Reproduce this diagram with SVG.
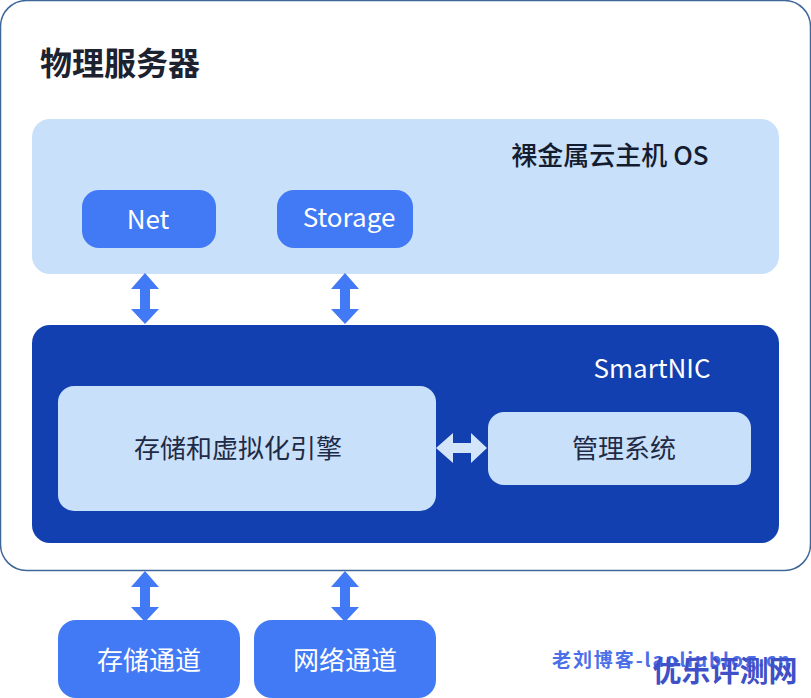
<svg xmlns="http://www.w3.org/2000/svg" width="811" height="698" viewBox="0 0 811 698">
<style>
text{font-family:"Noto Sans CJK SC","Noto Sans",sans-serif}
.w{fill:#fff;font-size:26px;text-anchor:middle}
.d{fill:#1f2a44;font-size:26px;text-anchor:middle}
.b{fill:#4279f4}
.l{fill:#c9e0fb}
.a{fill:#4279f4}
</style>
<rect width="811" height="698" fill="#fff"/>
<g id="server"><rect x="0.5" y="0.5" width="810" height="570" rx="26" fill="#fff" stroke="#3f6798" stroke-width="1.5"/>
<text x="120" y="75" font-size="32" font-weight="700" fill="#1c2230" text-anchor="middle">物理服务器</text></g>
<g id="os"><rect class="l" x="32" y="119" width="747" height="155" rx="18"/>
<text x="610" y="165" font-size="26" font-weight="500" fill="#141c30" text-anchor="middle">裸金属云主机 OS</text></g>
<g id="net"><rect class="b" x="82" y="190" width="134" height="58" rx="17"/><text class="w" x="148" y="229">Net</text></g>
<g id="storage"><rect class="b" x="277" y="190" width="136" height="58" rx="17"/><text class="w" x="349" y="227">Storage</text></g>
<g id="smartnic"><rect x="32" y="325" width="747" height="218" rx="18" fill="#1340b0"/>
<text x="652" y="378" fill="#fff" font-size="26" text-anchor="middle">SmartNIC</text></g>
<g id="engine"><rect class="l" x="58" y="386" width="378" height="125" rx="16"/><text class="d" x="238" y="458">存储和虚拟化引擎</text></g>
<g id="mgmt"><rect class="l" x="488" y="412" width="263" height="73" rx="16"/><text class="d" x="624" y="458">管理系统</text></g>
<g id="storage-channel"><rect class="b" x="58" y="620" width="182" height="78" rx="18"/><text class="w" x="149" y="670">存储通道</text></g>
<g id="network-channel"><rect class="b" x="254" y="620" width="182" height="78" rx="18"/><text class="w" x="345" y="670">网络通道</text></g>
<g id="connectors">
<path id="c1" class="a" d="M145 273L159 289H150V309H159L145 324L131 309H140V289H131Z"/>
<path id="c2" class="a" d="M345 273L359 289H350V309H359L345 324L331 309H340V289H331Z"/>
<path id="c3" class="a" d="M145 571L159 587H150V607H159L145 622L131 607H140V587H131Z"/>
<path id="c4" class="a" d="M345 571L359 587H350V607H359L345 622L331 607H340V587H331Z"/>
<path id="c5" fill="#d3e5fb" d="M436 448L453 433V443H471V433L487 448L471 463V453H453V463Z"/>
</g>
<text x="552" y="667" font-size="19" font-weight="700" fill="#4a6fe8" textLength="238">老刘博客-laoliublog.cn</text>
<text x="725" y="682" font-size="29" font-weight="700" fill="#3f50c8" text-anchor="middle">优乐评测网</text>
</svg>
